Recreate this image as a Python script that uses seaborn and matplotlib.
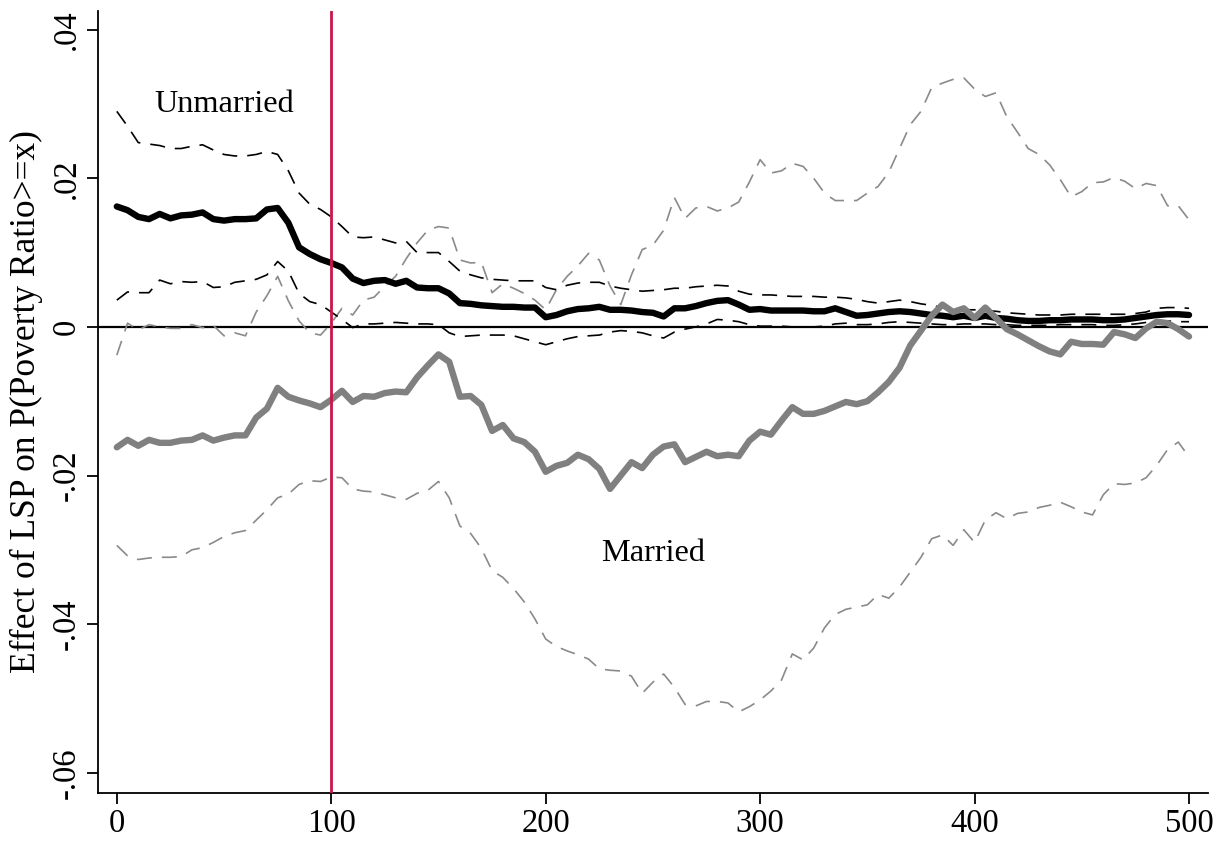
import numpy as np
import pandas as pd
import seaborn as sns
import matplotlib
matplotlib.use("Agg")
from matplotlib import pyplot as plt
from matplotlib.ticker import FuncFormatter

# poverty-ratio thresholds (x), every 5 points
x_vals = list(range(0, 505, 5))

unmarried_est = [
    0.0162, 0.0157, 0.0148, 0.0145, 0.0152, 0.0146, 0.0150, 0.0151, 0.0154, 0.0145,
    0.0143, 0.0145, 0.0145, 0.0146, 0.0158, 0.0160, 0.0140, 0.0107, 0.0098, 0.0091,
    0.0086, 0.0080, 0.0065, 0.0059, 0.0062, 0.0063, 0.0058, 0.0062, 0.0053, 0.0052,
    0.0052, 0.0045, 0.0032, 0.0031, 0.0029, 0.0028, 0.0027, 0.0027, 0.0026, 0.0026,
    0.0013, 0.0016, 0.0021, 0.0024, 0.0025, 0.0027, 0.0023, 0.0023, 0.0022, 0.0020,
    0.0019, 0.0014, 0.0025, 0.0025, 0.0028, 0.0032, 0.0035, 0.0036, 0.0030, 0.0023,
    0.0024, 0.0022, 0.0022, 0.0022, 0.0022, 0.0021, 0.0021, 0.0025, 0.0020, 0.0015,
    0.0016, 0.0018, 0.0020, 0.0021, 0.0020, 0.0018, 0.0016, 0.0015, 0.0013, 0.0015,
    0.0012, 0.0015, 0.0012, 0.0011, 0.0009, 0.0008, 0.0008, 0.0009, 0.0009, 0.0010,
    0.0010, 0.0010, 0.0009, 0.0009, 0.0010, 0.0012, 0.0014, 0.0016, 0.0017, 0.0017,
    0.0016,
]
unmarried_hi = [
    0.0290, 0.0270, 0.0248, 0.0246, 0.0244, 0.0240, 0.0240, 0.0243, 0.0245, 0.0238,
    0.0232, 0.0230, 0.0230, 0.0232, 0.0236, 0.0232, 0.0210, 0.0180, 0.0165, 0.0158,
    0.0148, 0.0135, 0.0121, 0.0120, 0.0121, 0.0117, 0.0113, 0.0115, 0.0100, 0.0100,
    0.0100, 0.0088, 0.0075, 0.0070, 0.0066, 0.0064, 0.0063, 0.0062, 0.0062, 0.0062,
    0.0053, 0.0050, 0.0056, 0.0059, 0.0060, 0.0060, 0.0055, 0.0052, 0.0050, 0.0048,
    0.0049, 0.0050, 0.0052, 0.0052, 0.0054, 0.0055, 0.0056, 0.0055, 0.0048, 0.0044,
    0.0043, 0.0043, 0.0042, 0.0041, 0.0041, 0.0041, 0.0040, 0.0040, 0.0039, 0.0037,
    0.0034, 0.0032, 0.0034, 0.0036, 0.0034, 0.0031, 0.0029, 0.0026, 0.0024, 0.0023,
    0.0023, 0.0022, 0.0021, 0.0019, 0.0018, 0.0017, 0.0016, 0.0016, 0.0016, 0.0017,
    0.0017, 0.0017, 0.0017, 0.0017, 0.0017, 0.0018, 0.0020, 0.0025, 0.0026, 0.0026,
    0.0025,
]
unmarried_lo = [
    0.0036, 0.0047, 0.0046, 0.0046, 0.0063, 0.0058, 0.0061, 0.0060, 0.0061, 0.0053,
    0.0054, 0.0060, 0.0062, 0.0064, 0.0070, 0.0088, 0.0075, 0.0045, 0.0034, 0.0030,
    0.0020, 0.0010, -0.0001, 0.0004, 0.0004, 0.0005, 0.0006, 0.0005, 0.0004, 0.0004,
    0.0003, -0.0008, -0.0013, -0.0012, -0.0011, -0.0011, -0.0011, -0.0012, -0.0016, -0.0020,
    -0.0024, -0.0020, -0.0016, -0.0013, -0.0012, -0.0011, -0.0007, -0.0005, -0.0006, -0.0008,
    -0.0012, -0.0015, -0.0007, -0.0003, 0.0000, 0.0004, 0.0010, 0.0009, 0.0007, 0.0003,
    0.0001, 0.0001, 0.0001, 0.0000, 0.0000, 0.0000, 0.0001, 0.0004, 0.0005, 0.0003,
    0.0003, 0.0004, 0.0006, 0.0007, 0.0006, 0.0005, 0.0004, 0.0003, 0.0003, 0.0004,
    0.0004, 0.0004, 0.0003, 0.0003, 0.0002, 0.0002, 0.0002, 0.0002, 0.0003, 0.0003,
    0.0003, 0.0003, 0.0002, 0.0002, 0.0003, 0.0004, 0.0006, 0.0007, 0.0008, 0.0007,
    0.0007,
]
married_est = [
    -0.0162, -0.0152, -0.0160, -0.0152, -0.0156, -0.0156, -0.0153, -0.0152, -0.0146, -0.0153,
    -0.0149, -0.0146, -0.0146, -0.0122, -0.0110, -0.0082, -0.0094, -0.0099, -0.0103, -0.0108,
    -0.0098, -0.0086, -0.0101, -0.0093, -0.0094, -0.0089, -0.0087, -0.0088, -0.0068, -0.0052,
    -0.0037, -0.0047, -0.0094, -0.0093, -0.0105, -0.0140, -0.0132, -0.0150, -0.0155, -0.0168,
    -0.0195, -0.0187, -0.0183, -0.0172, -0.0178, -0.0191, -0.0218, -0.0200, -0.0182, -0.0190,
    -0.0172, -0.0161, -0.0158, -0.0182, -0.0175, -0.0168, -0.0174, -0.0172, -0.0174, -0.0153,
    -0.0141, -0.0145, -0.0126, -0.0108, -0.0117, -0.0117, -0.0113, -0.0107, -0.0101, -0.0104,
    -0.0100, -0.0088, -0.0074, -0.0055, -0.0025, -0.0005, 0.0015, 0.0030, 0.0020, 0.0025,
    0.0012, 0.0026, 0.0012, -0.0003, -0.0010, -0.0018, -0.0026, -0.0033, -0.0037, -0.0020,
    -0.0023, -0.0023, -0.0024, -0.0007, -0.0010, -0.0015, -0.0002, 0.0007, 0.0005, -0.0003,
    -0.0013,
]
married_hi = [
    -0.0038, 0.0005, -0.0004, 0.0003, 0.0000, -0.0002, -0.0002, 0.0003, -0.0001, 0.0002,
    -0.0012, -0.0008, -0.0012, 0.0020, 0.0042, 0.0068, 0.0035, 0.0008, -0.0008, -0.0011,
    0.0005, 0.0025, 0.0016, 0.0036, 0.0040, 0.0055, 0.0068, 0.0092, 0.0113, 0.0130,
    0.0135, 0.0133, 0.0090, 0.0086, 0.0087, 0.0046, 0.0058, 0.0052, 0.0045, 0.0036,
    0.0023, 0.0050, 0.0068, 0.0082, 0.0099, 0.0090, 0.0055, 0.0030, 0.0070, 0.0104,
    0.0110, 0.0130, 0.0174, 0.0146, 0.0160, 0.0162, 0.0156, 0.0160, 0.0168, 0.0195,
    0.0225, 0.0207, 0.0210, 0.0220, 0.0216, 0.0200, 0.0180, 0.0170, 0.0170, 0.0170,
    0.0180, 0.0189, 0.0208, 0.0240, 0.0272, 0.0290, 0.0322, 0.0328, 0.0333, 0.0335,
    0.0320, 0.0310, 0.0315, 0.0283, 0.0262, 0.0240, 0.0232, 0.0218, 0.0198, 0.0175,
    0.0182, 0.0194, 0.0195, 0.0201, 0.0196, 0.0186, 0.0193, 0.0190, 0.0163, 0.0163,
    0.0144,
]
married_lo = [
    -0.0294, -0.0308, -0.0313, -0.0311, -0.0310, -0.0310, -0.0309, -0.0300, -0.0297, -0.0290,
    -0.0282, -0.0277, -0.0274, -0.0260, -0.0246, -0.0230, -0.0225, -0.0212, -0.0207, -0.0208,
    -0.0202, -0.0203, -0.0218, -0.0221, -0.0222, -0.0226, -0.0230, -0.0232, -0.0224, -0.0220,
    -0.0208, -0.0230, -0.0268, -0.0278, -0.0298, -0.0328, -0.0337, -0.0352, -0.0370, -0.0393,
    -0.0420, -0.0430, -0.0436, -0.0441, -0.0447, -0.0460, -0.0462, -0.0463, -0.0470, -0.0493,
    -0.0478, -0.0467, -0.0485, -0.0508, -0.0510, -0.0504, -0.0504, -0.0506, -0.0518, -0.0511,
    -0.0502, -0.0490, -0.0475, -0.0440, -0.0448, -0.0432, -0.0405, -0.0387, -0.0380, -0.0377,
    -0.0374, -0.0360, -0.0365, -0.0350, -0.0330, -0.0310, -0.0285, -0.0280, -0.0294, -0.0273,
    -0.0290, -0.0260, -0.0250, -0.0258, -0.0251, -0.0249, -0.0243, -0.0240, -0.0236, -0.0242,
    -0.0249, -0.0253, -0.0226, -0.0211, -0.0212, -0.0210, -0.0203, -0.0186, -0.0165, -0.0155,
    -0.0175,
]

y_ticks = [-0.06, -0.04, -0.02, 0, 0.02, 0.04]
x_ticks = [0, 100, 200, 300, 400, 500]
cutoff = 100

df = pd.DataFrame({
    "x": x_vals,
    "u_est": unmarried_est, "u_hi": unmarried_hi, "u_lo": unmarried_lo,
    "m_est": married_est, "m_hi": married_hi, "m_lo": married_lo,
})

sns.set_style("white")
plt.rcParams["font.family"] = ["Liberation Serif", "DejaVu Serif"]
plt.rcParams["text.color"] = "black"
plt.rcParams["axes.labelcolor"] = "black"
plt.rcParams["xtick.color"] = "black"
plt.rcParams["ytick.color"] = "black"

fig = plt.figure(figsize=(12.22, 8.48), dpi=100)
ax = fig.add_axes([0.0798, 0.065, 0.909, 0.922])

dash = (0, (9, 6))
sns.lineplot(data=df, x="x", y="m_hi", ax=ax, color="#8a8a8a", lw=1.2, linestyle=dash)
sns.lineplot(data=df, x="x", y="m_lo", ax=ax, color="#8a8a8a", lw=1.2, linestyle=dash)
sns.lineplot(data=df, x="x", y="u_hi", ax=ax, color="black", lw=1.2, linestyle=dash)
sns.lineplot(data=df, x="x", y="u_lo", ax=ax, color="black", lw=1.2, linestyle=dash)
ax.axhline(0, color="black", lw=1.6, zorder=1)
sns.lineplot(data=df, x="x", y="u_est", ax=ax, color="black", lw=4.6)
sns.lineplot(data=df, x="x", y="m_est", ax=ax, color="#808080", lw=4.6)
ax.axvline(cutoff, color="#c8174a", lw=2, zorder=5)

ax.text(50, 0.0299, "Unmarried", fontsize=23.3, ha="center", va="center")
ax.text(250, -0.0305, "Married", fontsize=23.3, ha="center", va="center")

ax.set_xlim(-9, 509)
ax.set_ylim(-0.0627, 0.0425)
ax.set_xticks(x_ticks)
ax.set_yticks(y_ticks)


def strip_zero(v, pos):
    if abs(v) < 1e-9:
        return "0"
    s = f"{v:.2f}"
    return s.replace("0.", ".")


ax.yaxis.set_major_formatter(FuncFormatter(strip_zero))
ax.set_xlabel("")
ax.set_ylabel("Effect of LSP on P(Poverty Ratio>=x)", fontsize=25.5, labelpad=6)
ax.tick_params(axis="both", which="major", labelsize=23.5, length=8, width=1.3,
               direction="out", color="black", left=True, bottom=True)
for lbl in ax.get_yticklabels():
    lbl.set_rotation(90)
    lbl.set_va("center")

sns.despine(ax=ax)
for side in ["left", "bottom"]:
    ax.spines[side].set_color("black")
    ax.spines[side].set_linewidth(1.3)

fig.savefig("out.png", dpi=100)
